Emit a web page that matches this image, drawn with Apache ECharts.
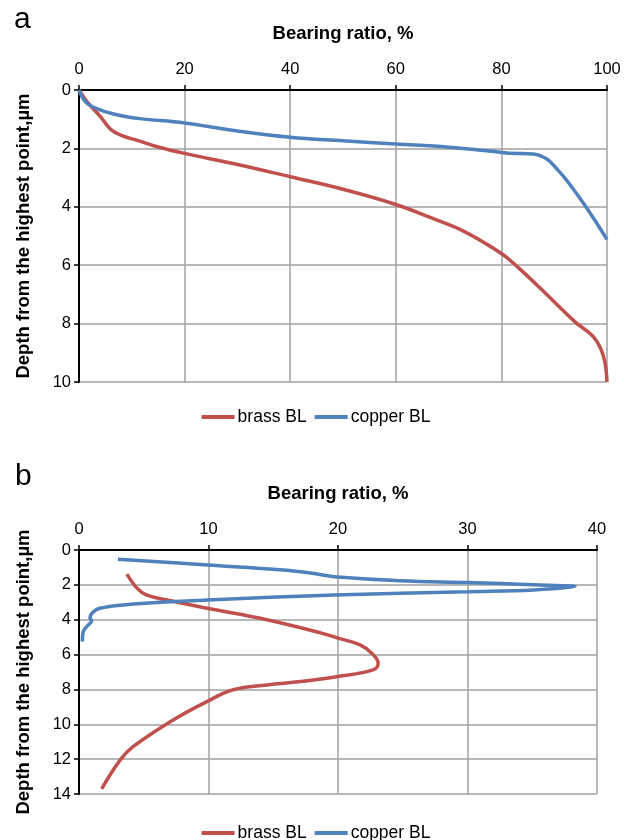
<!DOCTYPE html>
<html>
<head>
<meta charset="utf-8">
<script src="https://cdn.jsdelivr.net/npm/echarts@6/dist/echarts.min.js"></script>
<style>
  html, body { margin: 0; padding: 0; background: #fff; }
  #chart { width: 632px; height: 840px; }
</style>
</head>
<body>
<div id="chart"></div>
<script>
// panel a: [bearing ratio %, depth µm]
var brassA = [[0, 0], [1.5, 0.4], [4, 0.9], [6, 1.35], [8, 1.55], [11.5, 1.75], [15, 1.95], [20, 2.17], [30, 2.55], [40, 2.97], [50, 3.4], [60, 3.92], [67, 4.4], [73, 4.85], [80, 5.6], [83, 6.05], [88, 6.9], [94, 7.95], [97.4, 8.45], [99.3, 9.1], [100, 10]];
var copperA = [[0, 0], [1.3, 0.42], [4, 0.68], [8, 0.88], [11.5, 0.98], [20, 1.13], [29, 1.38], [40, 1.62], [50, 1.74], [60, 1.85], [70, 1.96], [79.7, 2.13], [82, 2.17], [86, 2.19], [88.6, 2.36], [90.5, 2.7], [92.4, 3.1], [96, 4.0], [100, 5.12]];
// panel b
var brassB = [[3.7, 1.38], [4.5, 2.2], [5.2, 2.58], [6.8, 2.87], [9.9, 3.34], [14.5, 4.0], [18.6, 4.74], [20, 5.06], [21.7, 5.44], [22.6, 5.92], [23.1, 6.5], [22.7, 6.88], [20, 7.26], [17.1, 7.55], [14.5, 7.74], [11.9, 8.02], [9.9, 8.69], [7.3, 9.74], [4.2, 11.27], [3.2, 12.03], [1.75, 13.7]];
var copperB = [[3.0, 0.53], [9.9, 0.86], [15.8, 1.15], [18.6, 1.4], [19.7, 1.53], [24.8, 1.76], [30, 1.87], [35.1, 1.99], [38.3, 2.1], [35.1, 2.29], [30, 2.39], [19.7, 2.58], [9.9, 2.87], [4.2, 3.1], [1.6, 3.34], [1.0, 3.63], [0.85, 3.92], [0.98, 4.05], [0.6, 4.39], [0.33, 4.68], [0.26, 5.25]];
var seriesNames = ['brass BL', 'copper BL'];
var xTicksA = { min: 0, max: 100, interval: 20 };
var yTicksA = { min: 0, max: 10, interval: 2 };
var xTicksB = { min: 0, max: 40, interval: 10 };
var yTicksB = { min: 0, max: 14, interval: 2 };

var red = '#C0504D', blue = '#4F81BD';
var font = 'Liberation Sans, Arial, sans-serif';

function xAx(idx, t) {
  return {
    type: 'value', gridIndex: idx, position: 'top',
    min: t.min, max: t.max, interval: t.interval,
    name: 'Bearing ratio, %', nameLocation: 'middle', nameGap: 47,
    nameTextStyle: { fontFamily: font, fontSize: 18.5, fontWeight: 'bold', color: '#000' },
    axisLine: { onZero: false, lineStyle: { color: '#000', width: 2 } },
    axisTick: { length: 5, lineStyle: { color: '#000', width: 1.5 } },
    axisLabel: { fontFamily: font, fontSize: 16.5, color: '#000', margin: 12 },
    splitLine: { lineStyle: { color: '#a0a0a0', width: 1.5 } }
  };
}
function yAx(idx, t) {
  return {
    type: 'value', gridIndex: idx, inverse: true,
    min: t.min, max: t.max, interval: t.interval,
    name: 'Depth from the highest point,µm', nameLocation: 'middle', nameGap: 46,
    nameTextStyle: { fontFamily: font, fontSize: 18.5, fontWeight: 'bold', color: '#000' },
    axisLine: { onZero: false, lineStyle: { color: '#000', width: 2 } },
    axisTick: { length: 5, lineStyle: { color: '#000', width: 1.5 } },
    axisLabel: { fontFamily: font, fontSize: 16.5, color: '#000', margin: 8 },
    splitLine: { lineStyle: { color: '#a0a0a0', width: 1.5 } }
  };
}
function line(name, data, color, idx) {
  return {
    name: name, type: 'line', data: data, xAxisIndex: idx, yAxisIndex: idx,
    smooth: 0.4, showSymbol: false, symbol: 'none',
    lineStyle: { color: color, width: 3.5 }, itemStyle: { color: color }
  };
}
function legend(top) {
  return {
    data: seriesNames, top: top, left: 'center', icon: 'rect',
    itemWidth: 33, itemHeight: 4, itemGap: 8,
    textStyle: { fontFamily: font, fontSize: 17.5, color: '#000', padding: [0, 0, 0, -2] }
  };
}

var chart = echarts.init(document.getElementById('chart'), null, { renderer: 'canvas' });
chart.setOption({
  animation: false,
  backgroundColor: '#fff',
  title: [
    { text: 'a', left: 9, top: 0, textStyle: { fontFamily: font, fontSize: 30, fontWeight: 'normal', color: '#000' } },
    { text: 'b', left: 10, top: 457, textStyle: { fontFamily: font, fontSize: 30, fontWeight: 'normal', color: '#000' } }
  ],
  legend: [legend(403), legend(819)],
  grid: [
    { left: 79, top: 90, width: 528, height: 292 },
    { left: 79, top: 550, width: 518, height: 244 }
  ],
  xAxis: [xAx(0, xTicksA), xAx(1, xTicksB)],
  yAxis: [yAx(0, yTicksA), yAx(1, yTicksB)],
  series: [
    line(seriesNames[0], brassA, red, 0),
    line(seriesNames[1], copperA, blue, 0),
    line(seriesNames[0], brassB, red, 1),
    line(seriesNames[1], copperB, blue, 1)
  ]
});
</script>
</body>
</html>
